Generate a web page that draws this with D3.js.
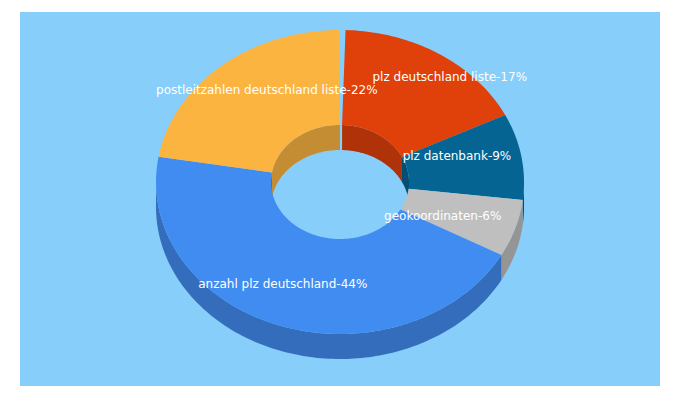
<!DOCTYPE html><html><head><script src="https://cdn.jsdelivr.net/npm/d3@7"></script>
<style>body{margin:0}</style></head><body><svg width="680" height="400"></svg><script>
const categories=["plz deutschland liste","plz datenbank","geokoordinaten","anzahl plz deutschland","postleitzahlen deutschland liste"];
const values=[17,9,6,44,22];
const colors=["#E0400A","#056492","#BFBFBF","#418CF0","#FCB441"];
const svg=d3.select("svg");
svg.append("rect").attr("x",20).attr("y",12).attr("width",640).attr("height",374).attr("fill","#87CEFA");
const cx=340,cy=182,rx=184,ry=152,ir=0.375,depth=25;
const pie=d3.pie().sort(null).startAngle(0.03);
const arcs=pie(values);
const P=(a,r,dy=0)=>[cx+rx*r*Math.sin(a),cy-ry*r*Math.cos(a)+dy];
function pts(a0,a1,r,dy){const n=Math.max(2,Math.ceil((a1-a0)/0.02));const o=[];for(let i=0;i<=n;i++)o.push(P(a0+(a1-a0)*i/n,r,dy));return o;}
const line=p=>"M"+p.map(q=>q.join(",")).join("L")+"Z";
const dark=c=>d3.color(c).darker(0.7);
// outer sides: front half (PI/2..3PI/2)
arcs.forEach((d,i)=>{const a0=Math.max(d.startAngle,Math.PI/2),a1=Math.min(d.endAngle,3*Math.PI/2);if(a1>a0){const top=pts(a0,a1,1,0),bot=pts(a0,a1,1,depth).reverse();svg.append("path").attr("d",line(top.concat(bot))).attr("fill",dark(colors[i]));}});
// inner walls: back half
arcs.forEach((d,i)=>{[[d.startAngle,Math.min(d.endAngle,Math.PI/2)],[Math.max(d.startAngle,3*Math.PI/2),d.endAngle]].forEach(([a0,a1])=>{if(a1>a0){const top=pts(a0,a1,ir,0),bot=pts(a0,a1,ir,depth).reverse();svg.append("path").attr("d",line(top.concat(bot))).attr("fill",dark(colors[i]));}});});
// top faces
arcs.forEach((d,i)=>{const o=pts(d.startAngle,d.endAngle,1,0),n=pts(d.startAngle,d.endAngle,ir,0).reverse();svg.append("path").attr("d",line(o.concat(n))).attr("fill",colors[i]);});
const pct=values.map(v=>Math.round(v/d3.sum(values)*100));
const off=[[40,-15],[-10,-8],[-20,2],[-15,2],[10,-10]];
arcs.forEach((d,i)=>{const m=(d.startAngle+d.endAngle)/2;const p=P(m,0.7,0);svg.append("text").attr("x",p[0]+off[i][0]).attr("y",p[1]+off[i][1]).attr("text-anchor","middle").attr("dominant-baseline","middle").attr("fill","#fff").attr("font-family","DejaVu Sans").attr("font-size",12).text(categories[i]+"-"+[17,9,6,44,22][i]+"%");});
</script></body></html>
